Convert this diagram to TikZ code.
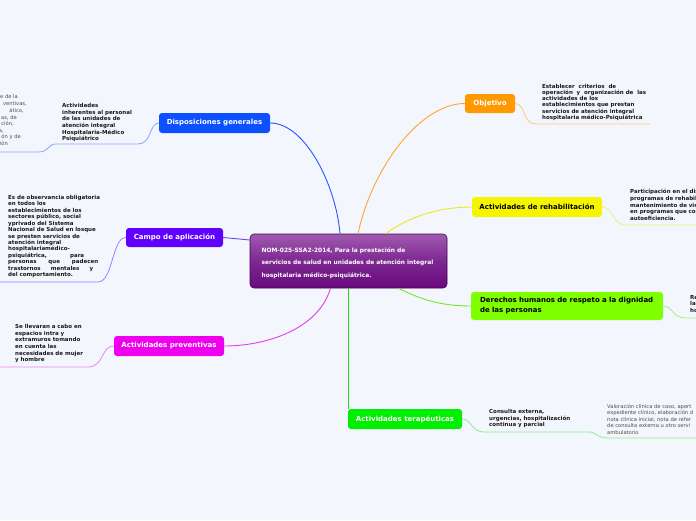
\documentclass[tikz,border=0pt]{standalone}
\usepackage{fontspec}
\setmainfont{DejaVu Sans}
\usetikzlibrary{calc}
\definecolor{bg}{RGB}{243,246,252}
\definecolor{cblue}{RGB}{12,80,255}
\definecolor{lblue}{RGB}{40,85,255}
\definecolor{sblue}{RGB}{140,165,255}
\definecolor{cindigo}{RGB}{96,0,255}
\definecolor{lindigo}{RGB}{115,70,235}
\definecolor{sindigo}{RGB}{165,125,255}
\definecolor{cmag}{RGB}{238,0,238}
\definecolor{lmag}{RGB}{232,60,232}
\definecolor{smag}{RGB}{242,130,242}
\definecolor{corange}{RGB}{255,153,0}
\definecolor{lorange}{RGB}{255,165,50}
\definecolor{sorange}{RGB}{255,200,120}
\definecolor{cyellow}{RGB}{245,245,0}
\definecolor{lyellow}{RGB}{232,232,30}
\definecolor{syellow}{RGB}{240,240,120}
\definecolor{clime}{RGB}{128,255,0}
\definecolor{llime}{RGB}{120,230,40}
\definecolor{slime}{RGB}{170,240,120}
\definecolor{cgreen}{RGB}{0,238,0}
\definecolor{lgreen}{RGB}{30,215,30}
\definecolor{sgreen}{RGB}{140,240,140}
\definecolor{ctop}{RGB}{160,90,175}
\definecolor{cmid}{RGB}{125,40,145}
\definecolor{cbot}{RGB}{105,10,125}
\definecolor{cborder}{RGB}{70,0,90}
\tikzset{
  topic/.style={rounded corners=3pt, inner sep=0pt, font=\bfseries\fontsize{7}{9}\selectfont, text=white},
  subtext/.style={anchor=north west, inner sep=0pt, align=left, text=black!90, font=\bfseries\fontsize{5.5}{6.7}\selectfont},
  thintext/.style={anchor=north west, inner sep=0pt, align=left, text=black!70, font=\fontsize{5.2}{6.5}\selectfont},
  frag/.style={anchor=base east, inner sep=0pt, text=black!70, font=\fontsize{5.2}{6.5}\selectfont},
  conn/.style={line width=0.9pt},
  sub/.style={line width=0.8pt}
}
\begin{document}
\begin{tikzpicture}[x=1pt,y=-1pt]
\path[use as bounding box, fill=bg] (0,0) rectangle (696,520);
\clip (0,0) rectangle (696,520);

% central node
\node[rounded corners=4pt, draw=cborder, line width=0.6pt, top color=ctop, bottom color=cbot, middle color=cmid,
      minimum width=197pt, minimum height=54pt] (c) at (348.5,261) {};
\node[inner sep=0pt, align=left, text=white, font=\bfseries\fontsize{5.9}{12.5}\selectfont] (ct) at (347.5,263)
  {NOM-025-SSA2-2014, Para la prestación de\\servicios de salud en unidades de atención integral\\hospitalaria médico-psiquiátrica.};

% topic boxes
\node[topic, fill=cblue, minimum width=111pt, minimum height=20pt] (d) at (214.5,123) {Disposiciones generales};
\node[topic, fill=cindigo, minimum width=97pt, minimum height=19pt] (ca) at (174.5,237.5) {Campo de aplicación};
\node[topic, fill=cmag, minimum width=110pt, minimum height=20pt] (p) at (169,346) {Actividades preventivas};
\node[topic, fill=corange, minimum width=50pt, minimum height=19pt] (o) at (490,103.5) {Objetivo};
\node[topic, fill=cyellow, text=black, minimum width=130pt, minimum height=20pt] (r) at (537,207) {Actividades de rehabilitación};
\node[topic, fill=clime, text=black, text width=174pt, inner xsep=9pt, align=left, minimum height=28pt,
      font=\bfseries\fontsize{7}{10}\selectfont] (dh) at (567,306)
  {Derechos humanos de respeto a la dignidad\\de las personas};
\node[topic, fill=cgreen, minimum width=114pt, minimum height=20pt] (t) at (405,419) {Actividades terapéuticas};

% main connectors
\draw[conn, lblue] ([xshift=-8.5pt]c.north) .. controls (336,185) and (305,123) .. (d.east);
\draw[conn, lorange] ([xshift=9.5pt]c.north) .. controls (372,168) and (420,103.5) .. (o.west);
\draw[conn, lyellow] ([xshift=37pt]c.north) .. controls (410,216) and (440,207) .. (r.west);
\draw[conn, llime] ([xshift=50pt]c.south) .. controls (420,299) and (440,306) .. (dh.west);
\draw[conn, lmag] ([xshift=-18pt]c.south) .. controls (318,330) and (265,346) .. (p.east);
\draw[conn, lindigo] ([yshift=21pt]c.west) -- (ca.east);
\draw[conn, lgreen] (c.south) -- (c.south |- t.north);

% sub texts
\node[subtext] (dt) at (62,103) {Actividades\\inherentes al personal\\de las unidades de\\atención integral\\Hospitalaria-Médico\\Psiquiátrico};
\node[subtext, font=\bfseries\fontsize{5.5}{6.2}\selectfont] (ot) at (542,84)
  {\makebox[74pt][s]{Establecer criterios de}\\operación\ \ y\ \ organización de\ \ las\\actividades de los\\establecimientos que prestan\\servicios de atención integral\\hospitalaria médico-Psiquiátrica};
\node[subtext] (rt) at (630,189) {Participación en el dis\\programas de rehabili\\mantenimiento de vin\\en programas que con\\autoeficiencia.};
\node[subtext] (dht) at (690,295) {Re\\la\\ho};
\node[subtext] (tt) at (489,409) {Consulta externa,\\urgencias, hospitalización\\continua y parcial};
\node[thintext] (tv) at (607,404) {Valoración clínica de caso, apert\\expediente clínico, elaboración d\\nota clínica inicial, nota de refer\\de consulta externa u otro servi\\ambulatorio};
\node[subtext, font=\bfseries\fontsize{5.5}{6.45}\selectfont] (cat) at (8,195)
  {Es de observancia obligatoria\\en todos los\\establecimientos de los\\sectores público, social\\yprivado del Sistema\\Nacional de Salud en losque\\se presten servicios de\\atención integral\\hospitalariamédico-\\\makebox[76pt][s]{psiquiátrica, para}\\\makebox[90pt][s]{personas que padecen}\\\makebox[85pt][s]{trastornos mentales y}\\del comportamiento.};
\node[subtext] (pt) at (15,324) {Se llevaran a cabo en\\espacios intra y\\extramuros tomando\\en cuenta las\\necesidades de mujer\\y hombre};

% cut-off text at the left edge
\node[frag] (f1) at (18,98) {e de la};
\node[frag] (f2) at (27,105.5) {ventivas,};
\node[frag] (f3) at (24,112.5) {ático,};
\node[frag] (f4) at (17,119) {as, de};
\node[frag] (f5) at (14,125.5) {ción,};
\node[frag] (f6) at (4,132) {a,};
\node[frag] (f7) at (21,138.5) {ón y de};
\node[frag] (f8) at (8,145) {ión};

% underlines
\draw[sub, sblue] (d.west) .. controls (149,123) and (152,144) .. (138,144) -- (56,144)
   .. controls (47,144) and (50,152) .. (38,152) -- (0,152);
\draw[sub, sindigo] (ca.west) .. controls (112,237.5) and (113,282) .. (98,282) -- (0,282);
\draw[sub, smag] (p.west) .. controls (101,346) and (104,367) .. (88,367) -- (0,367);
\draw[sub, sorange] (o.east) .. controls (526,103.5) and (522,124) .. (536,124) -- (650,124);
\draw[sub, syellow] (r.east) .. controls (613,207) and (612,225) .. (626,225) -- (696,225);
\draw[sub, slime] (dh.east) .. controls (673,306) and (672,318) .. (686,318) -- (696,318);
\draw[sub, sgreen] (t.east) .. controls (472,419) and (470,432) .. (485,432) -- (589,432)
   .. controls (597,432) and (596,438) .. (608,438) -- (696,438);
\end{tikzpicture}
\end{document}
